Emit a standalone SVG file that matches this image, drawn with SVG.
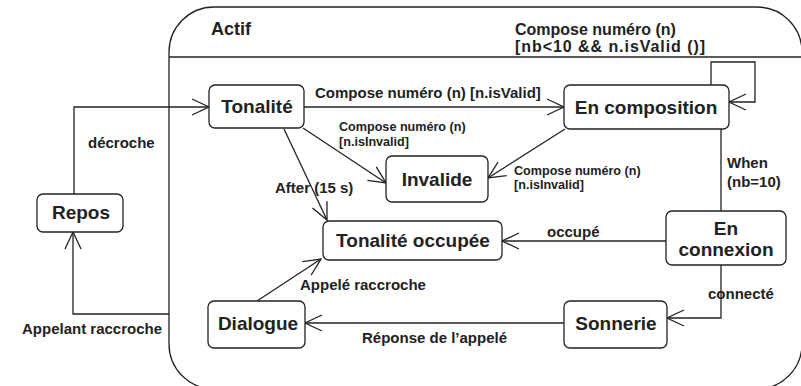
<svg xmlns="http://www.w3.org/2000/svg" width="801" height="386" viewBox="0 0 801 386">
  <style>
    .box { fill: #ffffff; stroke: #222222; stroke-width: 1.3; }
    .frame { fill: #ffffff; stroke: #222222; stroke-width: 1.3; }
    .edge { fill: none; stroke: #222222; stroke-width: 1.3; }
    .name { font-family: "Liberation Sans", Arial, sans-serif; font-weight: bold; font-size: 19px; fill: #222222; text-anchor: middle; }
    .lbl { font-family: "Liberation Sans", Arial, sans-serif; font-weight: bold; font-size: 15px; fill: #222222; }
    .sm { font-family: "Liberation Sans", Arial, sans-serif; font-weight: bold; font-size: 12.6px; fill: #222222; }
  </style>
  <defs>
    <marker id="open" viewBox="-19 -10 21 20" refX="0" refY="0" markerWidth="21" markerHeight="20" markerUnits="userSpaceOnUse" orient="auto">
      <path d="M-17,-8 L0,0 L-17,8" fill="none" stroke="#222222" stroke-width="1.3"/>
    </marker>
  </defs>

  <rect width="801" height="386" fill="#ffffff"/>

  <!-- composite state Actif -->
  <g id="actif">
    <rect class="frame" x="169" y="7" width="633" height="382" rx="45" ry="45"/>
    <line class="edge" x1="169" y1="57" x2="802" y2="57"/>
    <text class="lbl" x="211" y="35" style="font-size:18px">Actif</text>
  </g>

  <!-- transitions -->
  <g id="connectors">
    <path class="edge" d="M74,194 V107 H209" marker-end="url(#open)"/>
    <path class="edge" d="M304,107 H564" marker-end="url(#open)"/>
    <path class="edge" d="M711,85 V62 H755 V102 H729" marker-end="url(#open)"/>
    <path class="edge" d="M303,128 L386,183" marker-end="url(#open)"/>
    <path class="edge" d="M565,129 L488,178" marker-end="url(#open)"/>
    <path class="edge" d="M284,129 L327,220" marker-end="url(#open)"/>
    <path class="edge" d="M721,129 V211"/>
    <path class="edge" d="M666,241 H502" marker-end="url(#open)"/>
    <path class="edge" d="M721,265 V318 H667" marker-end="url(#open)"/>
    <path class="edge" d="M564,323 H305" marker-end="url(#open)"/>
    <path class="edge" d="M257,301 L321,259" marker-end="url(#open)"/>
    <path class="edge" d="M169,314 H73 V232" marker-end="url(#open)"/>
  </g>

  <!-- transition labels -->
  <g id="labels">
    <text class="lbl" x="515" y="35" style="font-size:16px">Compose numéro (n)</text>
    <text class="lbl" x="515" y="52" style="font-size:16px" textLength="190" lengthAdjust="spacing">[nb&lt;10 &amp;&amp; n.isValid ()]</text>
    <text class="lbl" x="315" y="98">Compose numéro (n) [n.isValid]</text>
    <text class="sm" x="339" y="131">Compose numéro (n)</text>
    <text class="sm" x="339" y="146">[n.isInvalid]</text>
    <text class="sm" x="514" y="175">Compose numéro (n)</text>
    <text class="sm" x="514" y="189">[n.isInvalid]</text>
    <text class="lbl" x="88" y="148">décroche</text>
    <text class="lbl" x="275" y="193">After (15 s)</text>
    <text class="lbl" x="727" y="168">When</text>
    <text class="lbl" x="727" y="187">(nb=10)</text>
    <text class="lbl" x="547" y="237">occupé</text>
    <text class="lbl" x="708" y="299">connecté</text>
    <text class="lbl" x="300" y="290">Appelé raccroche</text>
    <text class="lbl" x="362" y="343">Réponse de l’appelé</text>
    <text class="lbl" x="22" y="334">Appelant raccroche</text>
  </g>

  <!-- states -->
  <g id="repos">
    <rect class="box" x="37" y="194" width="86" height="38" rx="6"/>
    <text class="name" x="81" y="219">Repos</text>
  </g>
  <g id="tonalite">
    <rect class="box" x="209" y="85" width="95" height="43" rx="6"/>
    <text class="name" x="257" y="113">Tonalité</text>
  </g>
  <g id="en-composition">
    <rect class="box" x="564" y="85" width="165" height="44" rx="6"/>
    <text class="name" x="646" y="114">En composition</text>
  </g>
  <g id="invalide">
    <rect class="box" x="386" y="156" width="102" height="46" rx="6"/>
    <text class="name" x="437" y="186">Invalide</text>
  </g>
  <g id="tonalite-occupee">
    <rect class="box" x="323" y="221" width="179" height="39" rx="6"/>
    <text class="name" x="413" y="247">Tonalité occupée</text>
  </g>
  <g id="en-connexion">
    <rect class="box" x="666" y="211" width="120" height="54" rx="6"/>
    <text class="name" x="726" y="235">En</text>
    <text class="name" x="726" y="256">connexion</text>
  </g>
  <g id="sonnerie">
    <rect class="box" x="564" y="301" width="103" height="47" rx="6"/>
    <text class="name" x="616" y="330">Sonnerie</text>
  </g>
  <g id="dialogue">
    <rect class="box" x="208" y="301" width="97" height="47" rx="6"/>
    <text class="name" x="258" y="330">Dialogue</text>
  </g>
</svg>
